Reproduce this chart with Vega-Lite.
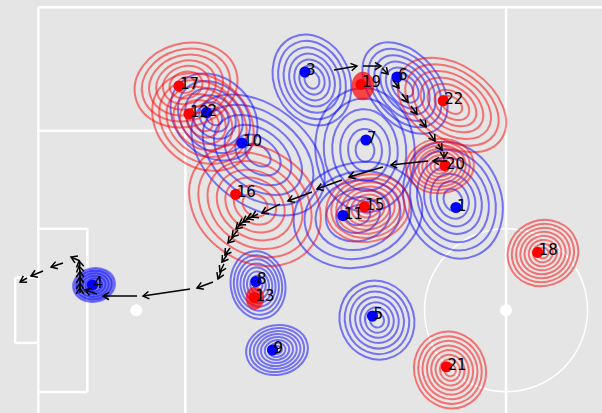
{
  "$schema": "https://vega.github.io/schema/vega-lite/v6.json",
  "width": 602,
  "height": 413,
  "padding": 0,
  "autosize": {"type": "none"},
  "background": "#e5e5e5",
  "config": {"view": {"stroke": null}},
  "datasets": {
    "lines": [
      {"x": 0, "y": 0, "x2": 63.3, "y2": 0},
      {"x": 0, "y": 0, "x2": 0, "y2": 46},
      {"x": 52.5, "y": 0, "x2": 52.5, "y2": 46},
      {"x": 0, "y": 13.84, "x2": 16.5, "y2": 13.84},
      {"x": 16.5, "y": 13.84, "x2": 16.5, "y2": 46},
      {"x": 0, "y": 24.84, "x2": 5.5, "y2": 24.84},
      {"x": 5.5, "y": 24.84, "x2": 5.5, "y2": 43.16},
      {"x": 0, "y": 43.16, "x2": 5.5, "y2": 43.16},
      {"x": -2.6, "y": 30.34, "x2": 0, "y2": 30.34},
      {"x": -2.6, "y": 37.66, "x2": 0, "y2": 37.66},
      {"x": -2.6, "y": 30.34, "x2": -2.6, "y2": 37.66}
    ],
    "blobs": [
      {"id": "3", "team": "blue", "x": 30.72, "y": 8.16, "form": "oval", "angle": -25, "r": [5.27, 4.53, 3.79, 3.06, 2.37, 1.69, 1.0]},
      {"id": "6", "team": "blue", "x": 41.16, "y": 9.06, "form": "long", "angle": -40, "r": [5.84, 5.02, 4.2, 3.39, 2.63, 1.87, 1.11]},
      {"id": "2", "team": "blue", "x": 19.72, "y": 12.31, "form": "oval", "angle": -45, "r": [5.39, 4.47, 3.56, 2.7, 1.83, 1.02]},
      {"id": "10", "team": "blue", "x": 24.66, "y": 16.58, "form": "long", "angle": -52, "r": [8.42, 6.99, 5.56, 4.21, 2.86, 1.6]},
      {"id": "7", "team": "blue", "x": 36.67, "y": 16.02, "form": "oval", "angle": -5, "r": [6.96, 5.78, 4.59, 3.48, 2.37, 1.32]},
      {"id": "11", "team": "blue", "x": 35.88, "y": 23.31, "form": "oval", "angle": 75, "r": [7.3, 6.06, 4.82, 3.65, 2.48, 1.39]},
      {"id": "1", "team": "blue", "x": 46.54, "y": 21.63, "form": "oval", "angle": -22, "r": [6.73, 5.79, 4.85, 3.9, 3.03, 2.15, 1.28]},
      {"id": "5", "team": "blue", "x": 38.01, "y": 35.1, "form": "near", "angle": -25, "r": [4.5, 3.87, 3.24, 2.61, 2.02, 1.44, 0.85]},
      {"id": "8", "team": "blue", "x": 24.66, "y": 31.17, "form": "oval", "angle": -10, "r": [3.82, 3.36, 2.9, 2.44, 1.99, 1.53, 1.07, 0.61]},
      {"id": "9", "team": "blue", "x": 26.79, "y": 38.46, "form": "oval", "angle": 80, "r": [3.48, 3.06, 2.64, 2.23, 1.81, 1.39, 0.97, 0.56]},
      {"id": "4", "team": "blue", "x": 6.25, "y": 31.17, "form": "oval", "angle": 80, "r": [2.36, 2.0, 1.65, 1.3, 0.95]},
      {"id": "17", "team": "red", "x": 16.58, "y": 8.72, "form": "oval", "angle": 75, "r": [5.84, 5.02, 4.2, 3.39, 2.63, 1.87, 1.11]},
      {"id": "12", "team": "red", "x": 18.48, "y": 12.87, "form": "oval", "angle": -50, "r": [6.17, 5.31, 4.44, 3.58, 2.78, 1.97, 1.17]},
      {"id": "16", "team": "red", "x": 24.32, "y": 22.19, "form": "oval", "angle": -55, "r": [7.86, 6.76, 5.66, 4.56, 3.54, 2.52, 1.49]},
      {"id": "22", "team": "red", "x": 46.43, "y": 10.96, "form": "long", "angle": -55, "r": [6.73, 5.79, 4.85, 3.9, 3.03, 2.15, 1.28]},
      {"id": "20", "team": "red", "x": 45.08, "y": 17.81, "form": "oval", "angle": 85, "r": [3.82, 3.36, 2.9, 2.44, 1.99, 1.53, 1.07, 0.61]},
      {"id": "15", "team": "red", "x": 37.0, "y": 22.53, "form": "oval", "angle": 80, "r": [4.71, 4.14, 3.58, 3.01, 2.45, 1.88, 1.32, 0.75]},
      {"id": "18", "team": "red", "x": 56.64, "y": 27.58, "form": "near", "angle": 70, "r": [4.0, 3.52, 3.04, 2.56, 2.08, 1.6, 1.12, 0.64]},
      {"id": "21", "team": "red", "x": 46.21, "y": 40.71, "form": "near", "angle": -20, "r": [4.35, 3.83, 3.31, 2.78, 2.26, 1.74, 1.22, 0.7]}
    ],
    "peaks": [
      {"id": "4", "team": "blue", "x": 6.25, "y": 31.17, "form": "oval", "angle": 80, "r": 2.3},
      {"id": "19", "team": "red", "x": 36.44, "y": 8.83, "form": "oval", "angle": 0, "r": 1.6},
      {"id": "13", "team": "red", "x": 24.32, "y": 32.63, "form": "oval", "angle": 0, "r": 1.3}
    ],
    "players": [
      {"id": "1", "team": "blue", "x": 46.88, "y": 22.47},
      {"id": "2", "team": "blue", "x": 18.88, "y": 11.81},
      {"id": "3", "team": "blue", "x": 29.93, "y": 7.26},
      {"id": "4", "team": "blue", "x": 6.08, "y": 31.17},
      {"id": "5", "team": "blue", "x": 37.51, "y": 34.65},
      {"id": "6", "team": "blue", "x": 40.26, "y": 7.82},
      {"id": "7", "team": "blue", "x": 36.78, "y": 14.89},
      {"id": "8", "team": "blue", "x": 24.43, "y": 30.77},
      {"id": "9", "team": "blue", "x": 26.29, "y": 38.46},
      {"id": "10", "team": "blue", "x": 22.86, "y": 15.23},
      {"id": "11", "team": "blue", "x": 34.2, "y": 23.37},
      {"id": "12", "team": "red", "x": 16.91, "y": 11.98},
      {"id": "13", "team": "red", "x": 24.26, "y": 32.59},
      {"id": "15", "team": "red", "x": 36.61, "y": 22.38},
      {"id": "16", "team": "red", "x": 22.15, "y": 20.99},
      {"id": "17", "team": "red", "x": 15.79, "y": 8.83},
      {"id": "18", "team": "red", "x": 56.05, "y": 27.5},
      {"id": "19", "team": "red", "x": 36.22, "y": 8.66},
      {"id": "20", "team": "red", "x": 45.65, "y": 17.76},
      {"id": "21", "team": "red", "x": 45.81, "y": 40.34},
      {"id": "22", "team": "red", "x": 45.45, "y": 10.48}
    ],
    "arrows": [
      {"x": 33.19, "y": 7.04, "x2": 35.77, "y2": 6.59, "a": -10},
      {"x": 36.44, "y": 6.59, "x2": 38.46, "y2": 6.59, "a": 0},
      {"x": 38.57, "y": 6.81, "x2": 39.25, "y2": 7.49, "a": 45},
      {"x": 39.81, "y": 8.16, "x2": 40.48, "y2": 9.06, "a": 53},
      {"x": 40.82, "y": 9.73, "x2": 41.49, "y2": 10.63, "a": 53},
      {"x": 41.83, "y": 11.08, "x2": 42.5, "y2": 11.98, "a": 53},
      {"x": 42.84, "y": 12.54, "x2": 43.51, "y2": 13.43, "a": 53},
      {"x": 43.85, "y": 14.0, "x2": 44.52, "y2": 15.01, "a": 56},
      {"x": 44.86, "y": 15.34, "x2": 45.31, "y2": 16.02, "a": 56},
      {"x": 45.53, "y": 16.24, "x2": 45.53, "y2": 16.91, "a": 90},
      {"x": 45.87, "y": 17.25, "x2": 44.3, "y2": 17.25, "a": 180},
      {"x": 43.74, "y": 17.25, "x2": 39.58, "y2": 17.7, "a": 174},
      {"x": 38.69, "y": 17.92, "x2": 34.87, "y2": 19.05, "a": 164},
      {"x": 34.08, "y": 19.38, "x2": 31.28, "y2": 20.39, "a": 160},
      {"x": 30.72, "y": 20.73, "x2": 28.02, "y2": 21.74, "a": 159},
      {"x": 27.13, "y": 22.08, "x2": 25.11, "y2": 23.09, "a": 153},
      {"x": 24.66, "y": 23.2, "x2": 23.98, "y2": 23.54, "a": 153},
      {"x": 24.21, "y": 23.42, "x2": 23.42, "y2": 23.7, "a": 160},
      {"x": 23.65, "y": 23.65, "x2": 22.97, "y2": 24.1, "a": 146},
      {"x": 23.2, "y": 23.98, "x2": 22.53, "y2": 24.43, "a": 146},
      {"x": 22.75, "y": 24.32, "x2": 22.19, "y2": 24.88, "a": 135},
      {"x": 22.41, "y": 24.99, "x2": 21.74, "y2": 25.78, "a": 131},
      {"x": 21.96, "y": 25.67, "x2": 21.29, "y2": 26.45, "a": 131},
      {"x": 21.52, "y": 27.01, "x2": 20.95, "y2": 27.8, "a": 125},
      {"x": 21.18, "y": 27.8, "x2": 20.62, "y2": 28.59, "a": 125},
      {"x": 20.84, "y": 28.81, "x2": 20.39, "y2": 29.71, "a": 117},
      {"x": 20.51, "y": 29.71, "x2": 20.17, "y2": 30.49, "a": 113},
      {"x": 19.61, "y": 30.83, "x2": 17.81, "y2": 31.5, "a": 159},
      {"x": 17.03, "y": 31.62, "x2": 11.75, "y2": 32.4, "a": 172},
      {"x": 11.08, "y": 32.4, "x2": 7.26, "y2": 32.4, "a": 180},
      {"x": 6.59, "y": 32.18, "x2": 5.24, "y2": 31.73, "a": 198},
      {"x": 4.68, "y": 32.07, "x2": 4.68, "y2": 31.5, "a": -90},
      {"x": 4.68, "y": 31.5, "x2": 4.68, "y2": 30.94, "a": -90},
      {"x": 4.68, "y": 30.94, "x2": 4.68, "y2": 30.27, "a": -90},
      {"x": 4.68, "y": 30.27, "x2": 4.68, "y2": 29.6, "a": -90},
      {"x": 4.68, "y": 29.6, "x2": 4.57, "y2": 29.03, "a": -101},
      {"x": 4.68, "y": 29.03, "x2": 4.57, "y2": 28.47, "a": -101},
      {"x": 4.68, "y": 28.47, "x2": 3.67, "y2": 28.02, "a": 204},
      {"x": 2.77, "y": 28.7, "x2": 1.43, "y2": 29.15, "a": 162},
      {"x": 0.53, "y": 29.6, "x2": -0.82, "y2": 30.16, "a": 157},
      {"x": -1.27, "y": 30.38, "x2": -2.05, "y2": 30.83, "a": 150}
    ]
  },
  "encoding": {
    "x": {"field": "x", "type": "quantitative", "axis": null, "scale": {"domain": [-4.3, 63.27], "nice": false, "zero": false}},
    "y": {"field": "y", "type": "quantitative", "axis": null, "scale": {"domain": [-0.82, 45.53], "nice": false, "zero": false, "reverse": true}}
  },
  "layer": [
    {
      "data": {"name": "lines"},
      "mark": {"type": "rule", "color": "white", "strokeWidth": 2.5},
      "encoding": {"x2": {"field": "x2"}, "y2": {"field": "y2"}}
    },
    {
      "data": {"values": [{"x": 52.5, "y": 34, "r": 9.15}]},
      "mark": {"type": "point", "shape": "circle", "filled": false, "stroke": "white", "strokeWidth": 1.5, "opacity": 1},
      "encoding": {"size": {"field": "r", "type": "quantitative", "legend": null, "scale": {"type": "pow", "exponent": 2, "domain": [0, 10], "range": [0, 31757], "zero": true, "nice": false}}}
    },
    {
      "data": {"values": [{"x": 11, "y": 34}, {"x": 52.5, "y": 34}]},
      "mark": {"type": "point", "shape": "circle", "filled": true, "color": "white", "size": 144, "opacity": 1}
    },
    {
      "data": {"name": "blobs"},
      "transform": [{"flatten": ["r"]}],
      "mark": {"type": "point", "filled": false, "strokeWidth": 2, "strokeOpacity": 0.5, "opacity": 1},
      "encoding": {
        "color": {"field": "team", "type": "nominal", "legend": null, "scale": {"domain": ["blue", "red"], "range": ["#0000ff", "#ff0000"]}},
        "shape": {"field": "form", "type": "nominal", "legend": null, "scale": {"domain": ["oval", "long", "near"], "range": ["M0,-1A0.8,1,0,1,1,0,1A0.8,1,0,1,1,0,-1Z", "M0,-1A0.66,1,0,1,1,0,1A0.66,1,0,1,1,0,-1Z", "M0,-1A0.92,1,0,1,1,0,1A0.92,1,0,1,1,0,-1Z"]}},
        "size": {"field": "r", "type": "quantitative", "legend": null, "scale": {"type": "pow", "exponent": 2, "domain": [0, 10], "range": [0, 31757], "zero": true, "nice": false}},
        "angle": {"field": "angle", "type": "quantitative", "scale": null}
      }
    },
    {
      "data": {"name": "peaks"},
      "transform": [{"filter": "datum.team === 'blue'"}],
      "mark": {"type": "point", "filled": true, "opacity": 0.45},
      "encoding": {
        "color": {"field": "team", "type": "nominal", "legend": null, "scale": {"domain": ["blue", "red"], "range": ["#0000ff", "#ff0000"]}},
        "shape": {"field": "form", "type": "nominal", "legend": null, "scale": {"domain": ["oval", "long", "near"], "range": ["M0,-1A0.8,1,0,1,1,0,1A0.8,1,0,1,1,0,-1Z", "M0,-1A0.66,1,0,1,1,0,1A0.66,1,0,1,1,0,-1Z", "M0,-1A0.92,1,0,1,1,0,1A0.92,1,0,1,1,0,-1Z"]}},
        "size": {"field": "r", "type": "quantitative", "legend": null, "scale": {"type": "pow", "exponent": 2, "domain": [0, 10], "range": [0, 31757], "zero": true, "nice": false}},
        "angle": {"field": "angle", "type": "quantitative", "scale": null}
      }
    },
    {
      "data": {"name": "peaks"},
      "transform": [{"filter": "datum.team === 'red'"}],
      "mark": {"type": "point", "filled": true, "opacity": 0.7},
      "encoding": {
        "color": {"field": "team", "type": "nominal", "legend": null, "scale": {"domain": ["blue", "red"], "range": ["#0000ff", "#ff0000"]}},
        "shape": {"field": "form", "type": "nominal", "legend": null, "scale": {"domain": ["oval", "long", "near"], "range": ["M0,-1A0.8,1,0,1,1,0,1A0.8,1,0,1,1,0,-1Z", "M0,-1A0.66,1,0,1,1,0,1A0.66,1,0,1,1,0,-1Z", "M0,-1A0.92,1,0,1,1,0,1A0.92,1,0,1,1,0,-1Z"]}},
        "size": {"field": "r", "type": "quantitative", "legend": null, "scale": {"type": "pow", "exponent": 2, "domain": [0, 10], "range": [0, 31757], "zero": true, "nice": false}},
        "angle": {"field": "angle", "type": "quantitative", "scale": null}
      }
    },
    {
      "data": {"name": "players"},
      "mark": {"type": "point", "shape": "circle", "filled": true, "size": 125, "opacity": 1},
      "encoding": {
        "color": {"field": "team", "type": "nominal", "legend": null, "scale": {"domain": ["blue", "red"], "range": ["#0000ff", "#ff0000"]}}
      }
    },
    {
      "data": {"name": "arrows"},
      "mark": {"type": "rule", "color": "black", "strokeWidth": 1.5},
      "encoding": {"x2": {"field": "x2"}, "y2": {"field": "y2"}}
    },
    {
      "data": {"name": "arrows"},
      "mark": {"type": "point", "shape": "M-1.6,-1L0,0L-1.6,1", "filled": false, "stroke": "black", "strokeWidth": 1.5, "size": 56, "opacity": 1},
      "encoding": {
        "x": {"field": "x2", "type": "quantitative"},
        "y": {"field": "y2", "type": "quantitative"},
        "angle": {"field": "a", "type": "quantitative", "scale": null}
      }
    },
    {
      "data": {"name": "players"},
      "mark": {"type": "text", "align": "left", "baseline": "alphabetic", "dx": 1, "dy": 3, "font": "DejaVu Sans", "fontSize": 15, "color": "black"},
      "encoding": {"text": {"field": "id"}}
    }
  ]
}
